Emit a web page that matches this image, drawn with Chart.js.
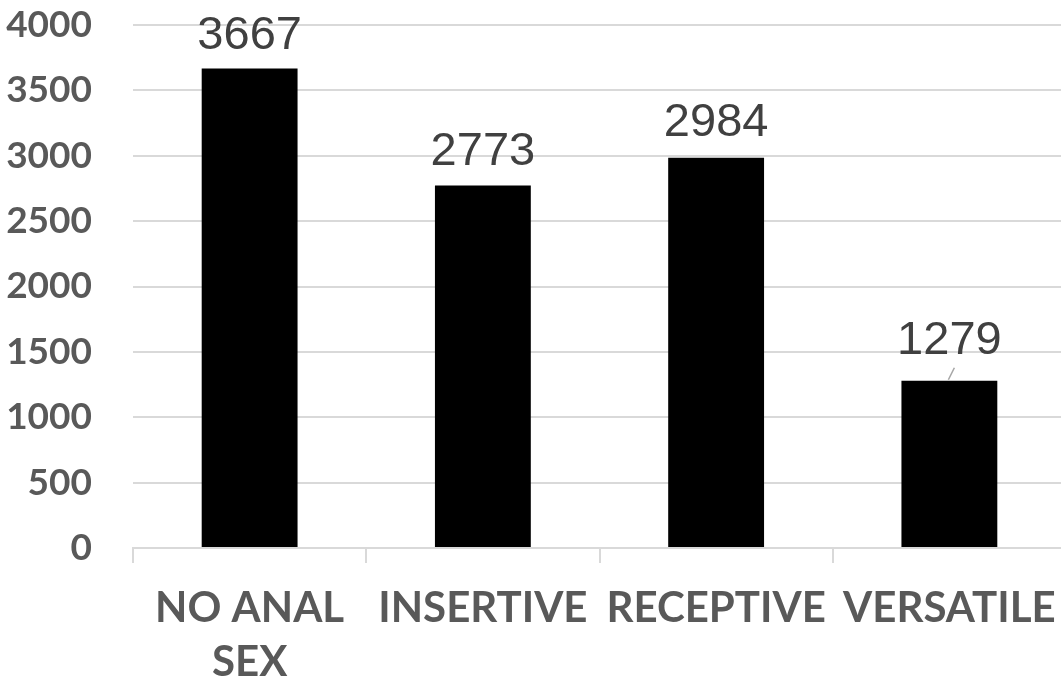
<!DOCTYPE html>
<html>
<head>
<meta charset="utf-8">
<script src="https://cdn.jsdelivr.net/npm/chart.js@4/dist/chart.umd.min.js"></script>
<style>
  html, body { margin: 0; padding: 0; background: #ffffff; overflow: hidden; }
  #wrap { position: relative; width: 1066px; height: 690px; }
</style>
</head>
<body>
<div id="wrap"><canvas id="c"></canvas></div>
<script>
const categories = [["NO ANAL", "SEX"], "INSERTIVE", "RECEPTIVE", "VERSATILE"];
const counts = [3667, 2773, 2984, 1279];
const yTicks = [0, 500, 1000, 1500, 2000, 2500, 3000, 3500, 4000];

const labelPlugin = {
  id: 'valueLabels',
  afterDatasetsDraw(chart, args, opts) {
    const ctx = chart.ctx;
    const meta = chart.getDatasetMeta(0);
    ctx.save();
    ctx.font = '47px "Liberation Sans", Arial, sans-serif';
    ctx.fillStyle = '#404040';
    ctx.textAlign = 'center';
    ctx.textBaseline = 'alphabetic';
    meta.data.forEach((bar, i) => {
      const off = (opts.offsets && opts.offsets[i]) || 20;
      ctx.fillText(String(chart.data.datasets[0].data[i]), bar.x, bar.y - off);
      if (opts.leaders && opts.leaders[i]) {
        ctx.strokeStyle = '#a6a6a6';
        ctx.lineWidth = 1.5;
        ctx.beginPath();
        ctx.moveTo(bar.x - 1, bar.y - 1);
        ctx.lineTo(bar.x + 5, bar.y - 13);
        ctx.stroke();
      }
    });
    ctx.restore();
  }
};

new Chart(document.getElementById('c'), {
  type: 'bar',
  data: {
    labels: categories,
    datasets: [{
      data: counts,
      backgroundColor: '#000000',
      borderWidth: 0,
      categoryPercentage: 1.0,
      barPercentage: 0.411
    }]
  },
  options: {
    responsive: true,
    maintainAspectRatio: false,
    animation: false,
    layout: { padding: { top: 25, right: 0, bottom: 0, left: 0 } },
    plugins: {
      legend: { display: false },
      tooltip: { enabled: false },
      valueLabels: { offsets: [20, 20, 22, 27], leaders: [false, false, false, true] }
    },
    scales: {
      x: {
        grid: {
          offset: true,
          drawOnChartArea: false,
          drawTicks: true,
          tickLength: 15,
          color: '#d9d9d9',
          lineWidth: 2
        },
        border: { display: true, color: '#d9d9d9', width: 2 },
        ticks: {
          color: '#595959',
          font: { family: 'Lato', weight: 'bold', size: 42, lineHeight: 1.3 },
          padding: 18,
          maxRotation: 0,
          autoSkip: false
        },
        afterFit(scale) { scale.height = 142; scale.paddingLeft = 0; scale.paddingRight = 0; }
      },
      y: {
        min: 0,
        max: 4000,
        afterBuildTicks(scale) { scale.ticks = yTicks.map(v => ({ value: v })); },
        grid: { color: '#d9d9d9', lineWidth: 2, drawTicks: false },
        border: { display: false },
        ticks: {
          color: '#595959',
          font: { family: 'Lato', weight: 'bold', size: 37 },
          padding: 41,
          callback: (v) => String(v)
        },
        afterFit(scale) { scale.width = 133; scale.paddingTop = 0; scale.paddingBottom = 0; }
      }
    }
  },
  plugins: [labelPlugin]
});
</script>
</body>
</html>
